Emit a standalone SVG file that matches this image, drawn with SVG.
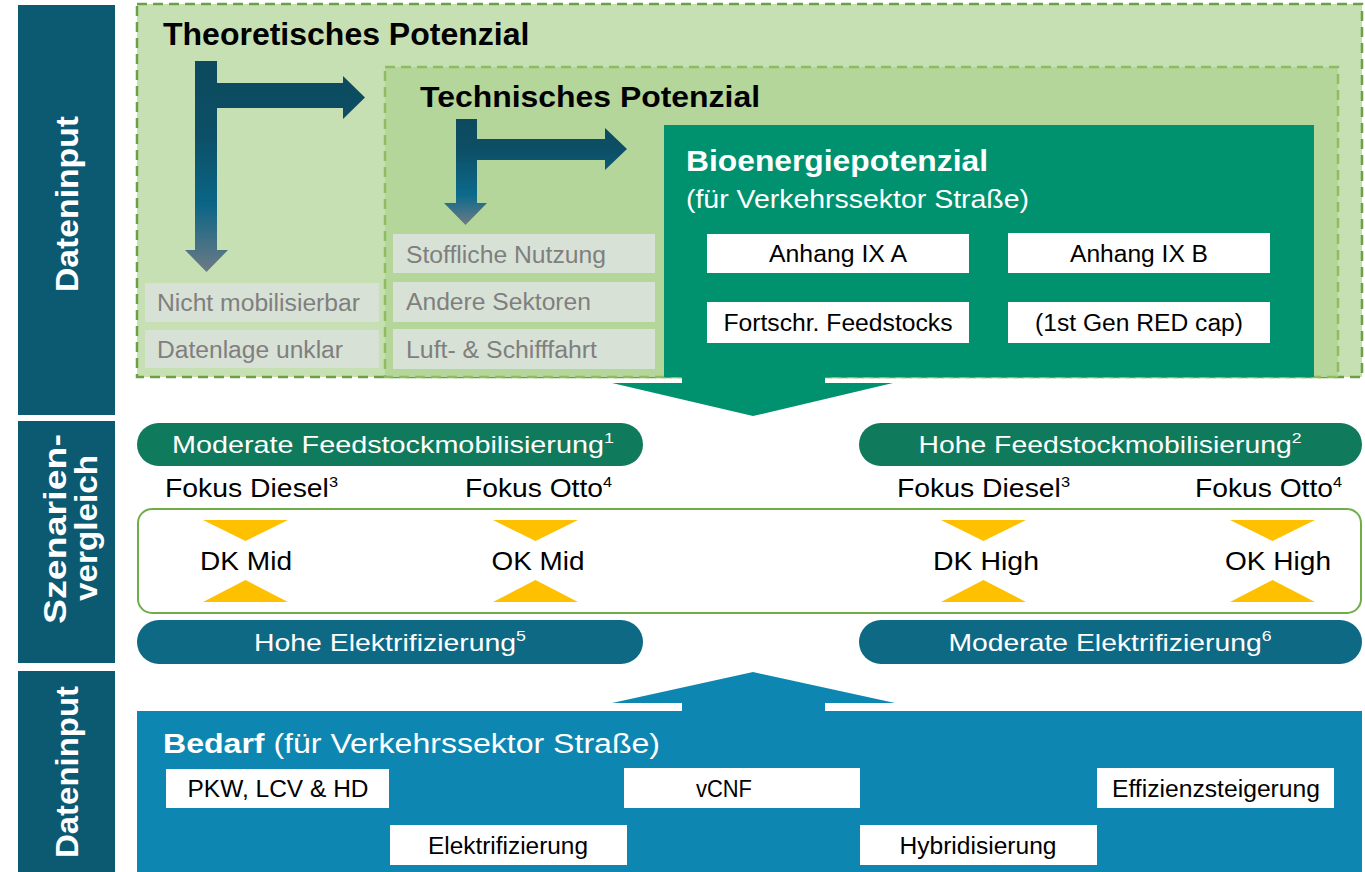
<svg xmlns="http://www.w3.org/2000/svg" width="1365" height="872" viewBox="0 0 1365 872">
  <defs>
    <linearGradient id="arrowGradA" x1="0" y1="0" x2="0" y2="1">
      <stop offset="0" stop-color="#0c4a5e"/>
      <stop offset="0.35" stop-color="#0c4f66"/>
      <stop offset="0.68" stop-color="#0b6586"/>
      <stop offset="1" stop-color="#6d7a85"/>
    </linearGradient>
    <linearGradient id="arrowGradB" x1="0" y1="0" x2="0" y2="1">
      <stop offset="0" stop-color="#0c4a5e"/>
      <stop offset="0.3" stop-color="#0c4f66"/>
      <stop offset="0.72" stop-color="#0d6a8c"/>
      <stop offset="1" stop-color="#6d7a85"/>
    </linearGradient>
  </defs>
  <style>
    text { font-family: "Liberation Sans", Arial, sans-serif; }
    .side { fill: #0c5a72; }
    .sideLbl { fill: #ffffff; font-weight: bold; font-size: 32px; text-anchor: middle; }
    .title { fill: #000000; font-weight: bold; }
    .grayBox { fill: #d8e1d5; }
    .grayTxt { fill: #7f7f7f; font-size: 23px; }
    .whiteBox { fill: #ffffff; }
    .boxTxt { fill: #000000; font-size: 23px; text-anchor: middle; }
    .pillG { fill: #107a5c; }
    .pillB { fill: #0e6985; }
    .pillTxt { fill: #ffffff; font-size: 24px; text-anchor: middle; }
    .focus { fill: #000000; font-size: 26px; }
    .scen { fill: #000000; font-size: 26px; text-anchor: middle; }
    .tri { fill: #ffc000; }
    .sup { font-size: 15px; }
    .bio { fill: #00926f; }
    .demand { fill: #0d87b1; }
  </style>

  <!-- left column labels -->
  <g id="side-input-top">
    <rect class="side" x="18" y="5" width="97" height="410"/>
    <text class="sideLbl" transform="translate(78 204) rotate(-90)" textLength="176" lengthAdjust="spacingAndGlyphs">Dateninput</text>
  </g>
  <g id="side-scenarios">
    <rect class="side" x="18" y="421" width="97" height="242"/>
    <text class="sideLbl" font-size="34" transform="translate(66 529) rotate(-90)" textLength="190" lengthAdjust="spacingAndGlyphs">Szenarien-</text>
    <text class="sideLbl" font-size="34" transform="translate(97 528) rotate(-90)" textLength="146" lengthAdjust="spacingAndGlyphs">vergleich</text>
  </g>
  <g id="side-input-bottom">
    <rect class="side" x="18" y="671" width="97" height="201"/>
    <text class="sideLbl" transform="translate(78 772) rotate(-90)" textLength="172" lengthAdjust="spacingAndGlyphs">Dateninput</text>
  </g>

  <!-- theoretical potential -->
  <g id="theoretical">
    <rect x="137" y="4" width="1225" height="373" fill="#c6e0b4" stroke="#6ba045" stroke-width="2.5" stroke-dasharray="10 6"/>
    <text class="title" x="163" y="45" font-size="32">Theoretisches Potenzial</text>
    <rect class="grayBox" x="145" y="283" width="234" height="39"/>
    <text class="grayTxt" x="157" y="311" textLength="203" lengthAdjust="spacingAndGlyphs">Nicht mobilisierbar</text>
    <rect class="grayBox" x="145" y="330" width="234" height="38"/>
    <text class="grayTxt" x="157" y="358" textLength="186" lengthAdjust="spacingAndGlyphs">Datenlage unklar</text>
  </g>

  <!-- technical potential -->
  <g id="technical">
    <rect x="385" y="67" width="953" height="310" fill="#b4d69b" stroke="#8fbc5e" stroke-width="2.5" stroke-dasharray="10 6"/>
    <text class="title" x="420" y="107" font-size="29" textLength="340" lengthAdjust="spacingAndGlyphs">Technisches Potenzial</text>
    <rect class="grayBox" x="393" y="234" width="262" height="39"/>
    <text class="grayTxt" x="406" y="263" textLength="200" lengthAdjust="spacingAndGlyphs">Stoffliche Nutzung</text>
    <rect class="grayBox" x="393" y="282" width="262" height="40"/>
    <text class="grayTxt" x="406" y="310" textLength="185" lengthAdjust="spacingAndGlyphs">Andere Sektoren</text>
    <rect class="grayBox" x="393" y="329" width="262" height="40"/>
    <text class="grayTxt" x="406" y="358" textLength="191" lengthAdjust="spacingAndGlyphs">Luft- &amp; Schifffahrt</text>
  </g>

  <!-- bioenergy potential -->
  <g id="bioenergy">
    <rect class="bio" x="664" y="125" width="650" height="252"/>
    <text x="686" y="171" fill="#ffffff" font-weight="bold" font-size="29" textLength="302" lengthAdjust="spacingAndGlyphs">Bioenergiepotenzial</text>
    <text x="686" y="208" fill="#ffffff" font-size="26" textLength="343" lengthAdjust="spacingAndGlyphs">(für Verkehrssektor Straße)</text>
    <rect class="whiteBox" x="707" y="234" width="262" height="39"/>
    <text class="boxTxt" x="838" y="262" textLength="138" lengthAdjust="spacingAndGlyphs">Anhang IX A</text>
    <rect class="whiteBox" x="1008" y="233" width="262" height="40"/>
    <text class="boxTxt" x="1139" y="262" textLength="138" lengthAdjust="spacingAndGlyphs">Anhang IX B</text>
    <rect class="whiteBox" x="707" y="302" width="262" height="41"/>
    <text class="boxTxt" x="838" y="331" textLength="229" lengthAdjust="spacingAndGlyphs">Fortschr. Feedstocks</text>
    <rect class="whiteBox" x="1008" y="302" width="262" height="41"/>
    <text class="boxTxt" x="1139" y="331" textLength="208" lengthAdjust="spacingAndGlyphs">(1st Gen RED cap)</text>
  </g>

  <!-- scenario comparison -->
  <g id="feedstock-moderate">
    <rect class="pillG" x="137" y="423" width="506" height="43" rx="21.5"/>
    <text class="pillTxt" x="393" y="453" textLength="442" lengthAdjust="spacingAndGlyphs">Moderate Feedstockmobilisierung<tspan class="sup" dy="-10">1</tspan></text>
  </g>
  <g id="feedstock-high">
    <rect class="pillG" x="859" y="423" width="503" height="43" rx="21.5"/>
    <text class="pillTxt" x="1110" y="453" textLength="383" lengthAdjust="spacingAndGlyphs">Hohe Feedstockmobilisierung<tspan class="sup" dy="-10">2</tspan></text>
  </g>
  <g id="focus-labels">
    <text class="focus" x="165" y="497" textLength="173" lengthAdjust="spacingAndGlyphs">Fokus Diesel<tspan class="sup" dy="-10">3</tspan></text>
    <text class="focus" x="465" y="497" textLength="147" lengthAdjust="spacingAndGlyphs">Fokus Otto<tspan class="sup" dy="-10">4</tspan></text>
    <text class="focus" x="897" y="497" textLength="173" lengthAdjust="spacingAndGlyphs">Fokus Diesel<tspan class="sup" dy="-10">3</tspan></text>
    <text class="focus" x="1195" y="497" textLength="147" lengthAdjust="spacingAndGlyphs">Fokus Otto<tspan class="sup" dy="-10">4</tspan></text>
  </g>
  <g id="scenario-box">
    <rect x="138" y="509" width="1223" height="104" rx="14" fill="#ffffff" stroke="#70ad47" stroke-width="2"/>
  </g>
  <g id="dk-mid">
    <polygon class="tri" points="203,520 288,520 245.5,541"/>
    <text class="scen" x="246" y="570" textLength="92" lengthAdjust="spacingAndGlyphs">DK Mid</text>
    <polygon class="tri" points="203,602 288,602 245.5,580"/>
  </g>
  <g id="ok-mid">
    <polygon class="tri" points="493,520 578,520 535.5,541"/>
    <text class="scen" x="538" y="570" textLength="93" lengthAdjust="spacingAndGlyphs">OK Mid</text>
    <polygon class="tri" points="493,602 578,602 535.5,580"/>
  </g>
  <g id="dk-high">
    <polygon class="tri" points="941,520 1026,520 983.5,541"/>
    <text class="scen" x="986" y="570" textLength="106" lengthAdjust="spacingAndGlyphs">DK High</text>
    <polygon class="tri" points="941,602 1026,602 983.5,580"/>
  </g>
  <g id="ok-high">
    <polygon class="tri" points="1230,520 1315,520 1272.5,541"/>
    <text class="scen" x="1278" y="570" textLength="106" lengthAdjust="spacingAndGlyphs">OK High</text>
    <polygon class="tri" points="1230,602 1315,602 1272.5,580"/>
  </g>
  <g id="electrification-high">
    <rect class="pillB" x="137" y="620" width="506" height="44" rx="22"/>
    <text class="pillTxt" x="390" y="651" textLength="272" lengthAdjust="spacingAndGlyphs">Hohe Elektrifizierung<tspan class="sup" dy="-10">5</tspan></text>
  </g>
  <g id="electrification-moderate">
    <rect class="pillB" x="859" y="620" width="503" height="44" rx="22"/>
    <text class="pillTxt" x="1110" y="651" textLength="323" lengthAdjust="spacingAndGlyphs">Moderate Elektrifizierung<tspan class="sup" dy="-10">6</tspan></text>
  </g>

  <!-- road transport demand -->
  <g id="demand">
    <rect class="demand" x="137" y="711" width="1225" height="161"/>
    <text x="163" y="753" fill="#ffffff" font-size="27" textLength="497" lengthAdjust="spacingAndGlyphs"><tspan font-weight="bold">Bedarf</tspan> (für Verkehrssektor Straße)</text>
    <rect class="whiteBox" x="166" y="769" width="223" height="39"/>
    <text class="boxTxt" x="278" y="797" textLength="181" lengthAdjust="spacingAndGlyphs">PKW, LCV &amp; HD</text>
    <rect class="whiteBox" x="624" y="768" width="236" height="40"/>
    <text class="boxTxt" x="724" y="797" textLength="56" lengthAdjust="spacingAndGlyphs">vCNF</text>
    <rect class="whiteBox" x="1097" y="768" width="237" height="40"/>
    <text class="boxTxt" x="1216" y="797" textLength="208" lengthAdjust="spacingAndGlyphs">Effizienzsteigerung</text>
    <rect class="whiteBox" x="390" y="825" width="237" height="40"/>
    <text class="boxTxt" x="508" y="854" textLength="160" lengthAdjust="spacingAndGlyphs">Elektrifizierung</text>
    <rect class="whiteBox" x="860" y="825" width="237" height="40"/>
    <text class="boxTxt" x="978" y="854" textLength="157" lengthAdjust="spacingAndGlyphs">Hybridisierung</text>
  </g>

  <!-- connectors -->
  <g id="connectors">
    <path fill="url(#arrowGradA)" d="M195,61 H217 V83 H343 V76 L365,97.5 L343,119 V108 H217 V250 H228 L206.5,272 L185,250 H195 Z"/>
    <path fill="url(#arrowGradB)" d="M456,119 H477 V139 H605 V128 L627,149 L605,170 V160 H477 V203 H487 L465.5,225 L444,203 H456 Z"/>
    <polygon class="bio" points="682,376 825,376 825,383 893,383 753,416 612,383 682,383"/>
    <polygon class="demand" points="682,712 682,703 612,703 753,672 895,703 825,703 825,712"/>
  </g>
</svg>
